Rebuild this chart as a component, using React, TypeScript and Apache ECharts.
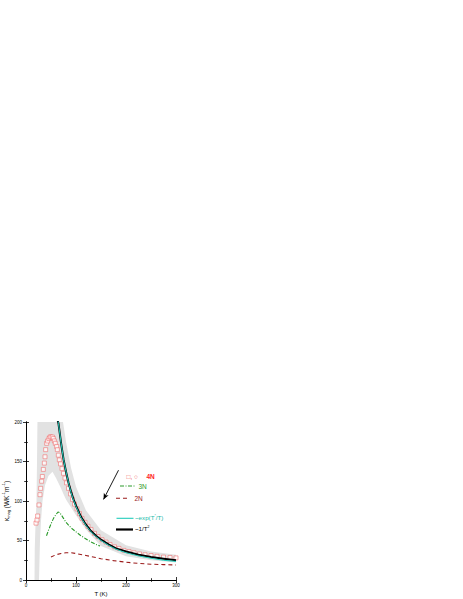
import React, { useEffect, useRef } from "react";
import * as echarts from "echarts";

// grey uncertainty band (lower and upper edge)
const bandT = [17, 17.5, 19, 21, 22, 23, 26, 28, 30, 33, 38, 45, 53, 60, 70, 74, 80, 90, 100, 120, 150, 200, 250, 300];
const bandLow = [0, 0, 0, 0, 0, 0, 0, 50, 75, 100, 120, 132, 137, 129, 116, 110, 102, 92, 82, 64, 43, 30, 25, 22];
const bandHigh = [0, 40, 70, 100, 150, 205, 240, 250, 250, 250, 250, 250, 250, 250, 215, 200, 175, 142, 118, 88, 63, 44, 36, 32];

// 4N squares
const sqT = [20, 22, 23.3, 26, 28, 29.3, 31.3, 32.7, 34.7, 36.7, 38, 39.3, 41.3, 43.3, 46, 48, 50, 52.7, 54.7, 56.7, 58.7, 61.3, 62.7, 64.7, 66.7,
  69, 72, 75, 78, 81, 85, 89, 93, 97, 102, 107, 112, 118, 124, 130, 137, 144, 152, 160, 168, 177, 186, 196, 206, 216, 227, 238, 250, 262, 275, 288, 300];
const sqV = [72, 76, 81, 95, 108, 116, 125, 131, 140, 148, 156, 165, 173, 176, 179, 181, 181, 181, 179, 176, 173, 169, 165, 158, 152,
  147, 141, 135, 129, 123, 116, 109, 102, 96, 90, 84, 78, 73, 68, 64, 59, 55, 51, 48, 45, 42, 40, 37.5, 36, 34.5, 33, 32, 31, 30, 29, 28.5, 28];

// 3N dash-dot
const n3T = [41, 45, 50, 55, 60, 64, 67, 70, 75, 80, 90, 100, 110, 120, 130, 140, 148];
const n3V = [56, 63, 71, 78, 83, 86, 85.5, 83, 78, 73, 66, 61, 56, 52, 48, 45, 43];

// 2N dashed
const n2T = [50, 60, 70, 80, 90, 100, 120, 150, 175, 200, 225, 250, 275, 300];
const n2V = [29, 32, 33.5, 34.5, 34.5, 33.5, 31, 27, 24.5, 22.5, 21, 20, 19.5, 19];

// ~1/T^2 (black) and ~exp(T*/T) (cyan)
const fitT = [63, 65, 70, 75, 80, 85, 90, 95, 100, 110, 120, 130, 140, 150, 165, 180, 200, 225, 250, 275, 300];
const blackV = [203, 198, 174, 153, 137, 123, 112, 102, 94, 80, 70, 62, 56, 51, 45, 40, 36, 32, 29, 27, 25];
const cyanV = [205, 198, 174, 153, 137, 123, 111, 101, 93, 79, 69, 61, 55, 50, 44, 39, 34.5, 30.5, 27.5, 25, 23.5];

const xTicks = [0, 100, 200, 300];
const yTicks = [0, 50, 100, 150, 200];

// arrow (data coordinates)
const arrowFrom = [185, 139];
const arrowTo = [155, 102];

const FONT = "Liberation Sans";

export default function App() {
  const ref = useRef<HTMLDivElement>(null);
  useEffect(() => {
    if (!ref.current) return;
    const chart = echarts.init(ref.current, null, { renderer: "svg" });
    const zip = (a: number[], b: number[]) => a.map((t, i) => [t, b[i]]);
    const axisCommon = {
      min: 0,
      axisLine: { show: true, lineStyle: { color: "#000", width: 1 } },
      axisTick: { show: true, inside: true, length: 3, lineStyle: { color: "#000", width: 0.8 } },
      minorTick: { show: true, splitNumber: 2, length: 1.8, lineStyle: { color: "#000", width: 0.8 } },
      splitLine: { show: false },
    };
    const option: any = {
      animation: false,
      backgroundColor: "#fff",
      grid: { left: 26, top: 422, width: 150, height: 158, containLabel: false },
      xAxis: [
        {
          ...axisCommon,
          type: "value", max: 300, interval: 100, position: "bottom",
          name: "T (K)", nameLocation: "middle", nameGap: 11,
          nameTextStyle: { fontSize: 6, fontFamily: FONT, color: "#000" },
          axisLabel: {
            fontSize: 4.5, fontFamily: FONT, color: "#000", margin: 3,
            customValues: xTicks,
          },
        },
        {
          ...axisCommon,
          type: "value", max: 300, interval: 100, position: "top",
          axisLabel: { show: false },
        },
      ],
      yAxis: [
        {
          ...axisCommon,
          type: "value", max: 200, interval: 50, position: "left",
          name: "{a|κ}{s|mag}{a| (WK}{p|-1}{a|m}{p|-1}{a|)}",
          nameLocation: "middle", nameGap: 12, nameRotate: 90,
          nameTextStyle: {
            fontFamily: FONT, color: "#000",
            rich: {
              a: { fontSize: 6.5, fontFamily: FONT, color: "#000", lineHeight: 9, verticalAlign: "middle" },
              s: { fontSize: 4, fontFamily: FONT, color: "#000", lineHeight: 9, verticalAlign: "bottom", padding: [3, 0, 0, 0] },
              p: { fontSize: 4, fontFamily: FONT, color: "#000", lineHeight: 9, verticalAlign: "top", padding: [0, 0, 3, 0] },
            },
          },
          axisLabel: {
            fontSize: 4.5, fontFamily: FONT, color: "#000", margin: 4,
            customValues: yTicks,
          },
        },
        {
          ...axisCommon,
          type: "value", max: 200, interval: 50, position: "right",
          axisLabel: { show: false },
        },
      ],
      series: [
        {
          type: "custom", name: "band", silent: true, z: 1,
          data: [[0, 0]],
          renderItem: (params: any, api: any) => {
            const upper = bandT.map((t, i) => api.coord([t, bandHigh[i]]));
            const lower = bandT.map((t, i) => api.coord([t, bandLow[i]])).reverse();
            const cs = params.coordSys;
            return {
              type: "polygon",
              shape: { points: upper.concat(lower) },
              style: { fill: "#e2e2e2", stroke: "none" },
              clipPath: { type: "rect", shape: { x: cs.x, y: cs.y, width: cs.width, height: cs.height } },
            };
          },
        },
        {
          type: "line", name: "2N", symbol: "none", data: zip(n2T, n2V), z: 3,
          lineStyle: { color: "#9b1b1b", width: 1.1, type: [4, 3] },
          markLine: {
            silent: true, animation: false,
            symbol: ["none", "arrow"], symbolSize: [4, 6],
            label: { show: false },
            lineStyle: { color: "#000", width: 0.9, type: "solid" },
            data: [[{ coord: arrowFrom }, { coord: arrowTo }]],
          },
        },
        {
          type: "line", name: "3N", symbol: "none", data: zip(n3T, n3V), z: 3,
          lineStyle: { color: "#2a9a2a", width: 1.1, type: [4, 1.5, 1, 1.5] },
        },
        {
          type: "scatter", name: "4N", symbol: "rect", symbolSize: 4,
          data: zip(sqT, sqV), z: 4,
          itemStyle: { color: "#fff", borderColor: "#f06868", borderWidth: 0.7 },
        },
        {
          type: "line", name: "1/T2", symbol: "none", data: zip(fitT, blackV), z: 5,
          lineStyle: { color: "#000", width: 2 },
        },
        {
          type: "line", name: "exp", symbol: "none", data: zip(fitT, cyanV), z: 6,
          lineStyle: { color: "#22ccbb", width: 1 },
        },
      ],
      graphic: [
        { type: "text", left: 126.5, top: 472.5, style: { text: "□, ○", fontSize: 6.5, fontFamily: FONT, fill: "#f06060" } },
        { type: "text", left: 146.5, top: 472.5, style: { text: "4N", fontSize: 6.5, fontWeight: "bold", fontFamily: FONT, fill: "#ff2222" } },
        { type: "line", shape: { x1: 120, y1: 486, x2: 136, y2: 486 }, style: { stroke: "#2a9a2a", lineWidth: 1.1, lineDash: [4, 1.5, 1, 1.5] } },
        { type: "text", left: 138.5, top: 482.5, style: { text: "3N", fontSize: 6.5, fontFamily: FONT, fill: "#2a9a2a" } },
        { type: "line", shape: { x1: 116, y1: 498.3, x2: 130, y2: 498.3 }, style: { stroke: "#9b1b1b", lineWidth: 1.1, lineDash: [4, 3] } },
        { type: "text", left: 134.5, top: 494.8, style: { text: "2N", fontSize: 6.5, fontFamily: FONT, fill: "#9b1b1b" } },
        { type: "line", shape: { x1: 116.5, y1: 518.3, x2: 133.5, y2: 518.3 }, style: { stroke: "#22ccbb", lineWidth: 1.1 } },
        {
          type: "text", left: 135, top: 514,
          style: {
            text: "{a|~exp(T}{p|*}{a|/T)}", fontFamily: FONT,
            rich: {
              a: { fontSize: 6.2, fontFamily: FONT, fill: "#22bbaa", lineHeight: 7, verticalAlign: "middle" },
              p: { fontSize: 3.5, fontFamily: FONT, fill: "#22bbaa", lineHeight: 7, verticalAlign: "top" },
            },
          },
        },
        { type: "line", shape: { x1: 116, y1: 529.5, x2: 133, y2: 529.5 }, style: { stroke: "#000", lineWidth: 2.2 } },
        {
          type: "text", left: 135, top: 525,
          style: {
            text: "{a|~1/T}{p|2}", fontFamily: FONT,
            rich: {
              a: { fontSize: 6.2, fontFamily: FONT, fill: "#000", lineHeight: 7, verticalAlign: "middle" },
              p: { fontSize: 3.5, fontFamily: FONT, fill: "#000", lineHeight: 7, verticalAlign: "top" },
            },
          },
        },
      ],
    };
    chart.setOption(option);
    return () => chart.dispose();
  }, []);
  return (
    <div
      ref={ref}
      style={{ position: "fixed", left: 0, top: 0, width: 463, height: 599 }}
    />
  );
}
